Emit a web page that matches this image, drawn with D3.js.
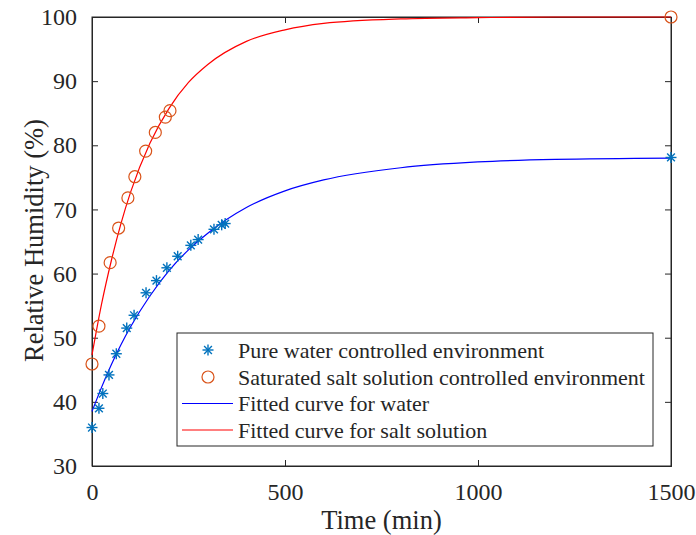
<!DOCTYPE html>
<html>
<head>
<meta charset="utf-8">
<script src="https://cdn.jsdelivr.net/npm/d3@7"></script>
<style>
  body { margin: 0; background: #fff; }
  text { font-family: "Liberation Serif", "Times New Roman", serif; fill: #262626; }
</style>
</head>
<body>
<div id="chart"></div>
<script>
// chart size
var w = 696;
var h = 535;
var margin = {top: 17, right: 25, bottom: 69, left: 92};

// measured points
var waterTime = [0, 18, 28, 44, 63, 90, 109, 140, 167, 194, 222, 256, 275, 316, 336, 345, 1500];
var waterRH = [36.0, 39.0, 41.3, 44.2, 47.5, 51.5, 53.5, 57.0, 58.9, 60.9, 62.7, 64.4, 65.3, 66.9, 67.6, 67.8, 78.1];
var saltTime = [0, 18, 47, 69, 93, 111, 139, 164, 190, 202, 1500];
var saltRH = [45.9, 51.8, 61.7, 67.1, 71.8, 75.1, 79.1, 82.0, 84.4, 85.4, 100];

// fitted curves
var fitTime = [0, 25, 50, 75, 100, 150, 200, 250, 300, 400, 500, 600, 800, 1000, 1200, 1500];
var waterFit = [38.5, 42.3, 45.8, 48.9, 51.7, 56.5, 60.5, 63.7, 66.3, 70.3, 72.9, 74.6, 76.5, 77.4, 77.8, 78.0];
var saltFit = [47.3, 55.3, 62.0, 67.8, 72.7, 80.3, 85.8, 89.8, 92.6, 96.2, 98.0, 99.0, 99.7, 99.9, 100, 100];

var xTicks = [0, 500, 1000, 1500];
var yTicks = [30, 40, 50, 60, 70, 80, 90, 100];
var legendLabels = ["Pure water controlled environment",
                    "Saturated salt solution controlled environment",
                    "Fitted curve for water",
                    "Fitted curve for salt solution"];

var axisColor = "#262626";
var starColor = "#0072BD";
var circleColor = "#D95319";

var xScale = d3.scaleLinear().domain([0, 1500]).range([margin.left, w - margin.right]);
var yScale = d3.scaleLinear().domain([30, 100]).range([h - margin.bottom, margin.top]);

var svg = d3.select("#chart").append("svg")
    .attr("width", w)
    .attr("height", h);

// axes (ticks inward, mirrored on top/right)
var tickLen = 6;
var xAxis = d3.axisBottom(xScale).tickValues(xTicks).tickSize(-tickLen).tickPadding(tickLen + 11).tickFormat(d3.format("d"));
var yAxis = d3.axisLeft(yScale).tickValues(yTicks).tickSize(-tickLen).tickPadding(tickLen + 9).tickFormat(d3.format("d"));

var gx = svg.append("g")
    .attr("transform", "translate(0," + (h - margin.bottom) + ")")
    .call(xAxis);
var gy = svg.append("g")
    .attr("transform", "translate(" + margin.left + ",0)")
    .call(yAxis);
svg.append("g")
    .attr("transform", "translate(0," + margin.top + ")")
    .call(d3.axisTop(xScale).tickValues(xTicks).tickSize(-tickLen).tickFormat(""));
svg.append("g")
    .attr("transform", "translate(" + (w - margin.right) + ",0)")
    .call(d3.axisRight(yScale).tickValues(yTicks).tickSize(-tickLen).tickFormat(""));

svg.selectAll(".domain").attr("stroke", axisColor);
svg.selectAll(".tick line").attr("stroke", axisColor);
svg.selectAll(".tick text")
    .style("font-size", "24px")
    .style("font-family", "'Liberation Serif', serif")
    .attr("fill", axisColor);

// box
svg.append("rect")
    .attr("x", margin.left)
    .attr("y", margin.top)
    .attr("width", w - margin.left - margin.right)
    .attr("height", h - margin.top - margin.bottom)
    .attr("fill", "none")
    .attr("stroke", axisColor);

// axis labels
svg.append("text")
    .attr("x", (margin.left + w - margin.right) / 2)
    .attr("y", 529)
    .attr("text-anchor", "middle")
    .style("font-size", "26.5px")
    .text("Time (min)");

svg.append("text")
    .attr("transform", "translate(43,240.5) rotate(-90)")
    .attr("text-anchor", "middle")
    .style("font-size", "26.5px")
    .text("Relative Humidity (%)");

// fitted curves
var line = d3.line()
    .x(function(d) { return xScale(d[0]); })
    .y(function(d) { return yScale(d[1]); })
    .curve(d3.curveMonotoneX);

svg.append("path")
    .datum(fitTime.map(function(t, i) { return [t, waterFit[i]]; }))
    .attr("d", line)
    .attr("fill", "none")
    .attr("stroke", "#0000FF")
    .attr("stroke-width", 1.2);

svg.append("path")
    .datum(fitTime.map(function(t, i) { return [t, saltFit[i]]; }))
    .attr("d", line)
    .attr("fill", "none")
    .attr("stroke", "#FF0000")
    .attr("stroke-width", 1.2);

// asterisk marker
function star(g, r) {
    var a = r * 0.7071;
    g.append("line").attr("x1", -r).attr("x2", r).attr("y1", 0).attr("y2", 0);
    g.append("line").attr("x1", 0).attr("x2", 0).attr("y1", -r).attr("y2", r);
    g.append("line").attr("x1", -a).attr("x2", a).attr("y1", -a).attr("y2", a);
    g.append("line").attr("x1", -a).attr("x2", a).attr("y1", a).attr("y2", -a);
}

svg.selectAll("g.star")
    .data(waterTime)
    .enter()
    .append("g")
    .attr("class", "star")
    .attr("transform", function(d, i) { return "translate(" + xScale(d) + "," + yScale(waterRH[i]) + ")"; })
    .attr("stroke", starColor)
    .attr("stroke-width", 1.4)
    .each(function() { star(d3.select(this), 5.5); });

svg.selectAll("circle.salt")
    .data(saltTime)
    .enter()
    .append("circle")
    .attr("class", "salt")
    .attr("cx", function(d) { return xScale(d); })
    .attr("cy", function(d, i) { return yScale(saltRH[i]); })
    .attr("r", 6)
    .attr("fill", "none")
    .attr("stroke", circleColor)
    .attr("stroke-width", 1.2);

// legend
var lg = svg.append("g");
lg.append("rect")
    .attr("x", 177)
    .attr("y", 333)
    .attr("width", 476)
    .attr("height", 113)
    .attr("fill", "#fff")
    .attr("stroke", axisColor);

var rowY = [350, 377, 403.5, 430];
lg.selectAll("text.leg")
    .data(legendLabels)
    .enter()
    .append("text")
    .attr("class", "leg")
    .attr("x", 238)
    .attr("y", function(d, i) { return rowY[i]; })
    .attr("dy", "0.35em")
    .style("font-size", "22px")
    .text(function(d) { return d; });

var ls = lg.append("g")
    .attr("transform", "translate(208," + rowY[0] + ")")
    .attr("stroke", starColor)
    .attr("stroke-width", 1.4);
star(ls, 5.5);

lg.append("circle")
    .attr("cx", 208)
    .attr("cy", rowY[1])
    .attr("r", 6)
    .attr("fill", "none")
    .attr("stroke", circleColor)
    .attr("stroke-width", 1.2);

lg.append("line")
    .attr("x1", 182).attr("x2", 233)
    .attr("y1", rowY[2]).attr("y2", rowY[2])
    .attr("stroke", "#0000FF")
    .attr("stroke-width", 1.2);
lg.append("line")
    .attr("x1", 182).attr("x2", 233)
    .attr("y1", rowY[3]).attr("y2", rowY[3])
    .attr("stroke", "#FF0000")
    .attr("stroke-width", 1.2);
</script>
</body>
</html>
